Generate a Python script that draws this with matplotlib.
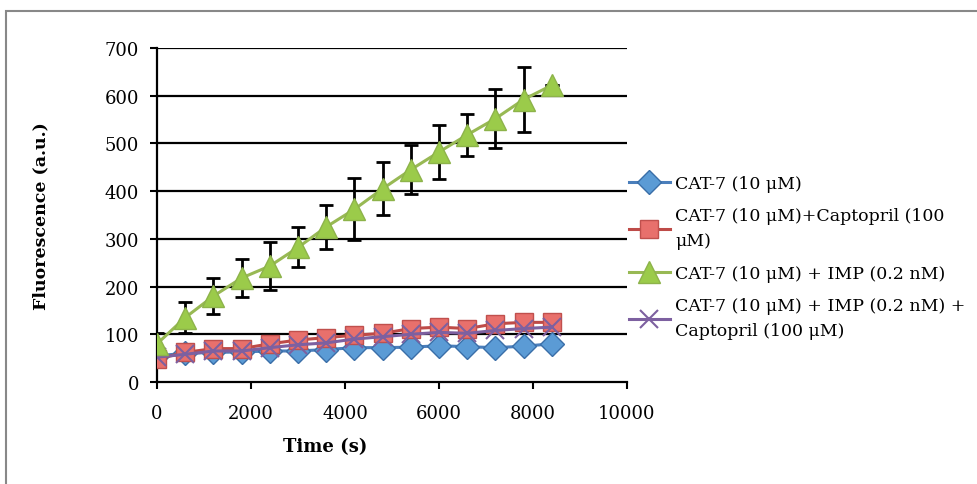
import matplotlib
matplotlib.use("Agg")
import matplotlib.pyplot as plt
from matplotlib.patches import Rectangle

time_s = [0, 600, 1200, 1800, 2400, 3000, 3600, 4200, 4800, 5400, 6000, 6600, 7200, 7800, 8400]
cat7 = [55, 60, 62, 63, 65, 65, 68, 72, 72, 73, 76, 74, 72, 75, 80]
cat7_capto = [48, 62, 70, 70, 80, 88, 93, 98, 102, 112, 115, 112, 122, 125, 125]
cat7_imp = [80, 135, 180, 218, 243, 282, 325, 362, 405, 445, 482, 518, 552, 592, 622]
cat7_imp_err = [22, 33, 38, 39, 50, 42, 47, 65, 56, 51, 56, 44, 62, 68, 0]
cat7_imp_capto = [52, 58, 65, 65, 72, 78, 82, 90, 95, 100, 104, 102, 108, 112, 115]

labels = ["CAT-7 (10 μM)",
          "CAT-7 (10 μM)+Captopril (100\nμM)",
          "CAT-7 (10 μM) + IMP (0.2 nM)",
          "CAT-7 (10 μM) + IMP (0.2 nM) +\nCaptopril (100 μM)"]
yticks = [0, 100, 200, 300, 400, 500, 600, 700]
xticks = [0, 2000, 4000, 6000, 8000, 10000]

plt.rcParams['font.family'] = ['DejaVu Serif']

W, H = 978, 485
fig = plt.figure(figsize=(W/100, H/100), dpi=100)
ax = fig.add_axes([157/W, 1-383/H, (627-157)/W, (383-49)/H])

fig.patches.append(Rectangle((6/W, -0.1), 1.2, 1-12/H+0.1, transform=fig.transFigure,
                             fill=False, edgecolor='#888888', linewidth=1.5))

h1, = ax.plot(time_s, cat7, color='#4A7EBB', lw=2.2, marker='D', ms=12,
              mfc='#5B9BD5', mec='#3A6EA8', mew=1, label=labels[0], zorder=3)
h2, = ax.plot(time_s, cat7_capto, color='#BE4B48', lw=2.2, marker='s', ms=13,
              mfc='#E8706C', mec='#C0504D', mew=1, label=labels[1], zorder=3)
ax.errorbar(time_s, cat7_imp, yerr=cat7_imp_err, fmt='none', ecolor='black',
            elinewidth=2, capsize=5, capthick=2, zorder=4)
h3, = ax.plot(time_s, cat7_imp, color='#98B954', lw=2.2, marker='^', ms=16,
              mfc='#9BCB4A', mec='#8DB34A', mew=1, label=labels[2], zorder=5)
h4, = ax.plot(time_s, cat7_imp_capto, color='#7D60A0', lw=2.2, marker='x', ms=13,
              mew=1.5, mec='#7D60A0', label=labels[3], zorder=4)

ax.set_xlim(0, 10000)
ax.set_ylim(0, 700)
ax.set_yticks(yticks)
ax.set_xticks(xticks)
ax.tick_params(axis='both', labelsize=13, direction='out', length=5, width=1.5, color='black')
ax.tick_params(axis='y', pad=8)
ax.tick_params(axis='x', pad=11)
for y in yticks[1:]:
    ax.axhline(y, color='black', lw=1.6, zorder=1)
for s in ['top', 'right']:
    ax.spines[s].set_visible(False)
ax.spines['left'].set_linewidth(1.6)
ax.spines['bottom'].set_linewidth(1.6)

ax.set_xlabel('Time (s)', fontsize=13, fontweight='bold', labelpad=8)
ax.xaxis.set_label_coords(0.357, -0.165)
ax.set_ylabel('Fluorescence (a.u.)', fontsize=12.5, fontweight='bold')
ax.yaxis.set_label_coords(-0.228, 0.5)

leg = fig.legend(handles=[h1, h2, h3, h4], labels=labels, loc='upper left',
                 bbox_to_anchor=(613/W, 1-160/H), frameon=False, fontsize=12.5,
                 handlelength=2.4, handletextpad=0.3, labelspacing=0.9)
for t in leg.get_texts():
    t.set_linespacing(1.6)

fig.savefig('out.png', dpi=100)
